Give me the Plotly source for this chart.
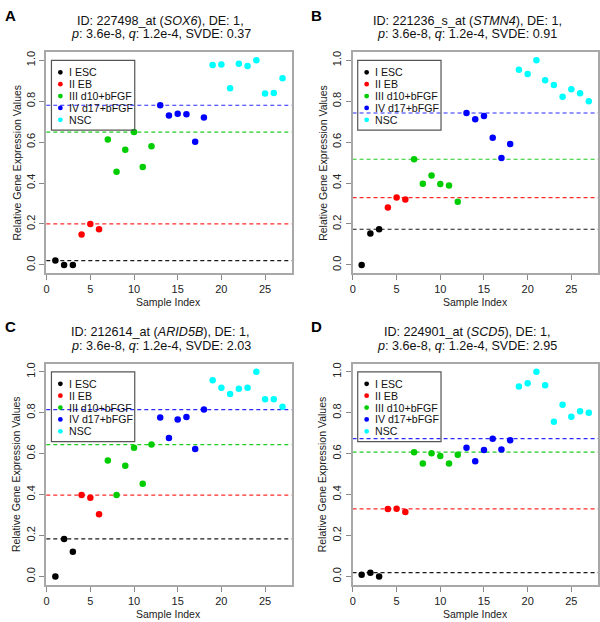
import plotly.graph_objects as go

# ---------------- data ----------------
samples = list(range(1, 28))
group_names = ["I ESC", "II EB", "III d10+bFGF", "IV d17+bFGF", "NSC"]
group_sizes = [3, 3, 6, 6, 9]
group_colors = ["#000000", "#FF0000", "#00CD00", "#0000FF", "#00FFFF"]
line_colors = ["#1a1a1a", "#FF2a2a", "#22CC22", "#2a2aFF"]

panel_letters = ["A", "B", "C", "D"]
probe_ids = ["227498_at", "221236_s_at", "212614_at", "224901_at"]
gene_symbols = ["SOX6", "STMN4", "ARID5B", "SCD5"]
de_values = ["1", "1", "1", "1"]
p_values = ["3.6e-8", "3.6e-8", "3.6e-8", "3.6e-8"]
q_values = ["1.2e-4", "1.2e-4", "1.2e-4", "1.2e-4"]
svde_values = ["0.37", "0.91", "2.03", "2.95"]

values_A = [0.021, 0.0, 0.0, 0.149, 0.200, 0.174,
            0.613, 0.455, 0.562, 0.649, 0.478, 0.580,
            0.780, 0.730, 0.738, 0.736, 0.601, 0.720,
            0.976, 0.979, 0.863, 0.983, 0.972, 1.0, 0.837, 0.840, 0.912]
values_B = [0.0, 0.153, 0.174, 0.280, 0.329, 0.320,
            0.516, 0.396, 0.437, 0.395, 0.388, 0.309,
            0.742, 0.712, 0.728, 0.621, 0.522, 0.590,
            0.953, 0.932, 1.0, 0.902, 0.879, 0.822, 0.858, 0.839, 0.800]
values_C = [0.0, 0.183, 0.120, 0.397, 0.384, 0.304,
            0.566, 0.398, 0.541, 0.629, 0.452, 0.644,
            0.776, 0.676, 0.766, 0.779, 0.622, 0.815,
            0.958, 0.922, 0.891, 0.917, 0.922, 1.0, 0.866, 0.866, 0.829]
values_D = [0.008, 0.018, 0.0, 0.329, 0.330, 0.314,
            0.607, 0.551, 0.602, 0.588, 0.551, 0.594,
            0.628, 0.563, 0.617, 0.673, 0.620, 0.665,
            0.928, 0.944, 1.0, 0.934, 0.756, 0.839, 0.780, 0.807, 0.799]
panel_values = [values_A, values_B, values_C, values_D]

# ---------------- layout geometry (pixels) ----------------
W, H = 600, 622
FONT = "Arial, Liberation Sans, sans-serif"
box_left = [43.65, 352.5, 43.65, 352.5]
box_top = [51.1, 51.1, 363.1, 363.1]
box_w, box_h = 247.4, 221.4


def px(x):
    return x / W


def py(y):
    return 1 - y / H


fig = go.Figure()
layout = dict(
    width=W, height=H,
    margin=dict(l=0, r=0, t=0, b=0),
    paper_bgcolor="white", plot_bgcolor="white",
    showlegend=False,
    font=dict(family=FONT, color="#222222"),
)
annotations = []
shapes = []

# group boundaries
bounds = []
s = 0
for n in group_sizes:
    bounds.append((s, s + n))
    s += n

for i, vals in enumerate(panel_values):
    suf = "" if i == 0 else str(i + 1)
    xa, ya = "x" + suf, "y" + suf
    L, T = box_left[i], box_top[i]
    ymin, ymax = min(vals), max(vals)
    yr = [ymin - 0.04 * (ymax - ymin), ymax + 0.04 * (ymax - ymin)]

    layout["xaxis" + suf] = dict(
        domain=[px(L), px(L + box_w)], anchor=ya, range=[-0.04, 28.04],
        tickmode="array", tickvals=[0, 5, 10, 15, 20, 25],
        ticks="outside", ticklen=5, tickwidth=1.2, tickcolor="#888888",
        showline=True, mirror=True, linecolor="#A8A8A8", linewidth=2,
        showgrid=False, zeroline=False,
        tickfont=dict(size=11, family=FONT, color="#222222"),
    )
    layout["yaxis" + suf] = dict(
        domain=[py(T + box_h), py(T)], anchor=xa, range=yr,
        tickmode="array", tickvals=[0, 0.2, 0.4, 0.6, 0.8, 1.0],
        tickformat=".1f", tickangle=-90,
        ticks="outside", ticklen=5, tickwidth=1.2, tickcolor="#888888",
        showline=True, mirror=True, linecolor="#A8A8A8", linewidth=2,
        showgrid=False, zeroline=False,
        tickfont=dict(size=11, family=FONT, color="#222222"),
    )

    # dashed lines at the max of the first four groups
    for g in range(4):
        a, b = bounds[g]
        m = max(vals[a:b])
        shapes.append(dict(
            type="line", xref=xa + " domain", yref=ya,
            x0=0, x1=1, y0=m, y1=m, layer="below",
            line=dict(color=line_colors[g], width=1.2, dash="4px,3px"),
        ))

    # points
    for g in range(5):
        a, b = bounds[g]
        fig.add_trace(go.Scatter(
            x=samples[a:b], y=vals[a:b], mode="markers",
            xaxis=xa, yaxis=ya, name=group_names[g],
            marker=dict(color=group_colors[g], size=6.5, line=dict(width=0)),
            showlegend=False, hoverinfo="x+y",
        ))

    # legend box
    lgL, lgT, lgW, lgH = L + 5.2, T + 8.3, 84, 70
    shapes.append(dict(
        type="rect", xref="paper", yref="paper",
        x0=px(lgL), x1=px(lgL + lgW), y0=py(lgT + lgH), y1=py(lgT),
        line=dict(color="#555555", width=1.2), fillcolor="rgba(0,0,0,0)",
        layer="above",
    ))
    for g in range(5):
        cy = lgT + 12 + 11.9 * g
        shapes.append(dict(
            type="circle", xref="paper", yref="paper",
            xsizemode="pixel", ysizemode="pixel",
            xanchor=px(lgL + 9), yanchor=py(cy),
            x0=-2.4, x1=2.4, y0=-2.4, y1=2.4,
            fillcolor=group_colors[g], line=dict(width=0), layer="above",
        ))
        annotations.append(dict(
            xref="paper", yref="paper", x=px(lgL + 15.5), y=py(cy),
            xanchor="left", yanchor="middle", showarrow=False,
            text=group_names[g], font=dict(size=10.6, family=FONT, color="#111111"),
        ))

    # titles
    cx = L + 115.5
    annotations.append(dict(
        xref="paper", yref="paper", x=px(cx), y=py(T - 31.2),
        xanchor="center", yanchor="middle", showarrow=False,
        text=f"ID: {probe_ids[i]} (<i>{gene_symbols[i]}</i>), DE: {de_values[i]},",
        font=dict(size=12.6, family=FONT, color="#111111"),
    ))
    annotations.append(dict(
        xref="paper", yref="paper", x=px(cx), y=py(T - 17.9),
        xanchor="center", yanchor="middle", showarrow=False,
        text=f"<i>p</i>: {p_values[i]}, <i>q</i>: {q_values[i]}, SVDE: {svde_values[i]}",
        font=dict(size=12.6, family=FONT, color="#111111"),
    ))
    # panel letter
    annotations.append(dict(
        xref="paper", yref="paper", x=px(L - 36), y=py(T - 37),
        xanchor="center", yanchor="middle", showarrow=False,
        text=f"<b>{panel_letters[i]}</b>",
        font=dict(size=15, family=FONT, color="#000000"),
    ))
    # axis titles
    annotations.append(dict(
        xref="paper", yref="paper", x=px(L + box_w / 2), y=py(T + box_h + 29),
        xanchor="center", yanchor="middle", showarrow=False,
        text="Sample Index", font=dict(size=10.5, family=FONT, color="#222222"),
    ))
    annotations.append(dict(
        xref="paper", yref="paper", x=px(L - 30.5), y=py(T + box_h / 2),
        xanchor="center", yanchor="middle", showarrow=False, textangle=-90,
        text="Relative Gene Expression Values",
        font=dict(size=10.5, family=FONT, color="#222222"),
    ))

layout["annotations"] = annotations
layout["shapes"] = shapes
fig.update_layout(**layout)
fig.write_html(
    "out.html",
    config={"displayModeBar": False},
    post_script="document.body.style.margin='0px';document.body.style.padding='0px';",
)
